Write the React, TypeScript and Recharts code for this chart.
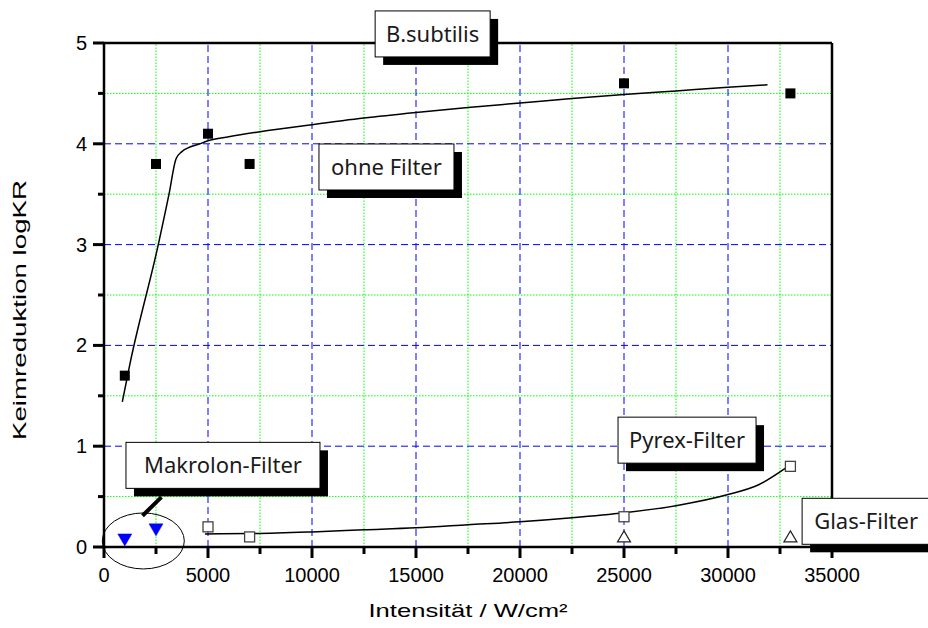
import React from 'react';
import { ComposedChart, XAxis, YAxis, Scatter, Line, ReferenceLine, ReferenceDot } from 'recharts';

// ---------- data ----------
const ohneX = [1000, 2500, 5000, 7000, 25000, 33000];
const ohneY = [1.7, 3.8, 4.1, 3.8, 4.6, 4.5];
const pyrexX = [5000, 7000, 25000, 33000];
const pyrexY = [0.2, 0.1, 0.3, 0.8];
const glasX = [25000, 33000];
const glasY = [0.1, 0.1];
const makrolonX = [1000, 2500];
const makrolonY = [0.07, 0.17];

const ohneFitX = [880, 1250, 2610, 3125, 3460, 3730, 4615, 5000, 6000, 7500, 10000, 12500, 15000, 17500, 20000, 22500, 25000, 27500, 30000, 31900];
const ohneFitY = [1.44, 1.82, 3.0, 3.5, 3.85, 3.92, 4.0, 4.03, 4.07, 4.12, 4.19, 4.255, 4.31, 4.36, 4.405, 4.45, 4.49, 4.525, 4.56, 4.585];
const pyrexFitX = [4850, 7000, 10000, 12500, 15000, 17500, 20000, 22500, 25000, 27500, 30000, 31500, 32750];
const pyrexFitY = [0.13, 0.133, 0.15, 0.17, 0.19, 0.22, 0.25, 0.29, 0.34, 0.41, 0.52, 0.62, 0.78];

const xTicks = [0, 2500, 5000, 7500, 10000, 12500, 15000, 17500, 20000, 22500, 25000, 27500, 30000, 32500, 35000];
const yTicks = [0, 0.5, 1, 1.5, 2, 2.5, 3, 3.5, 4, 4.5, 5];
const xGridMajor = [5000, 10000, 15000, 20000, 25000, 30000];
const xGridMinor = [2500, 7500, 12500, 17500, 22500, 27500, 32500];
const yGridMajor = [1, 2, 3, 4];
const yGridMinor = [0.5, 1.5, 2.5, 3.5, 4.5];

const noteText = ['B.subtilis', 'ohne Filter', 'Makrolon-Filter', 'Pyrex-Filter', 'Glas-Filter'];
const noteX = [15800, 13580, 5720, 28030, 36640];
const noteY = [5.09, 3.77, 0.81, 1.06, 0.255];
const ellipseCenter = { x: 1890, y: 0.06 };
const pointerSeg = [{ x: 1850, y: 0.31 }, { x: 2760, y: 0.495 }];

const xTitle = 'Intensität / W/cm²';
const yTitle = 'Keimreduktion logKR';

// ---------- styles ----------
const noteW = [115, 135, 194, 138, 128];
const NOTE_H = 46;
const AXIS_FONT = '"Liberation Sans", Arial, sans-serif';
const NOTE_FONT = '"Noto Sans", "Open Sans", sans-serif';
const TICK_W = 3;
const TICK_C = '#000';

const zip = (xs: number[], ys: number[]) => xs.map((x, i) => ({ x, y: ys[i] }));
const isMajor = (v: number, step: number) => Math.abs(v / step - Math.round(v / step)) < 1e-6;

const bottomTick = (p: any) => {
  const x = Number(p.x);
  const y = Number(p.y);
  const v = p.payload.value;
  const major = isMajor(v, 5000);
  return (
    <g>
      <line x1={x} x2={x} y1={y} y2={y + (major ? 11 : 7)} stroke={TICK_C} strokeWidth={TICK_W} />
      {major ? (
        <text x={x} y={y + 35} textAnchor="middle" fontFamily={AXIS_FONT} fontSize={20} fill="#000">
          {v}
        </text>
      ) : null}
    </g>
  );
};
const topTick = (p: any) => {
  const x = Number(p.x);
  const y = Number(p.y);
  const major = isMajor(p.payload.value, 5000);
  return (
    <g>
      <line x1={x} x2={x} y1={y} y2={y + (major ? 11 : 7)} stroke={TICK_C} strokeWidth={TICK_W} />
    </g>
  );
};
const leftTick = (p: any) => {
  const x = Number(p.x);
  const y = Number(p.y);
  const v = p.payload.value;
  const major = isMajor(v, 1);
  return (
    <g>
      <line x1={x - (major ? 11 : 6)} x2={x} y1={y} y2={y} stroke={TICK_C} strokeWidth={TICK_W} />
      {major ? (
        <text x={x - 17} y={y + 7} textAnchor="end" fontFamily={AXIS_FONT} fontSize={20} fill="#000">
          {v}
        </text>
      ) : null}
    </g>
  );
};
const rightTick = (p: any) => {
  const x = Number(p.x);
  const y = Number(p.y);
  const major = isMajor(p.payload.value, 1);
  return (
    <g>
      <line x1={x - (major ? 11 : 7)} x2={x} y1={y} y2={y} stroke={TICK_C} strokeWidth={TICK_W} />
    </g>
  );
};

const filledSquare = (p: any) => <rect x={p.cx - 5} y={p.cy - 5} width={10} height={10} fill="#000" />;
const openSquare = (p: any) => (
  <rect x={p.cx - 5} y={p.cy - 5} width={10} height={10} fill="#fff" stroke="#444" strokeWidth={1.3} />
);
const openTriangle = (p: any) => (
  <path d={`M${p.cx},${p.cy - 6} L${p.cx + 6.5},${p.cy + 5} L${p.cx - 6.5},${p.cy + 5} Z`} fill="#fff" stroke="#222" strokeWidth={1.2} />
);
const blueTriangle = (p: any) => (
  <path d={`M${p.cx - 7},${p.cy - 6} L${p.cx + 7},${p.cy - 6} L${p.cx},${p.cy + 6} Z`} fill="#0000ff" stroke="#0000ff" strokeWidth={0.5} />
);

const makeNote = (text: string, w: number) => (p: any) => {
  const { cx, cy } = p;
  const h = NOTE_H;
  return (
    <g>
      <rect x={cx - w / 2 + 8} y={cy - h / 2 + 8} width={w} height={h} fill="#000" />
      <rect x={cx - w / 2} y={cy - h / 2} width={w} height={h} fill="#fff" stroke="#000" strokeWidth={1} />
      <text x={cx} y={cy + 8} textAnchor="middle" fontFamily={NOTE_FONT} fontSize={22} fill="#1a1a1a">
        {text}
      </text>
    </g>
  );
};

const ellipseShape = (p: any) => <ellipse cx={p.cx} cy={p.cy} rx={41} ry={28} fill="none" stroke="#000" strokeWidth={1} />;

const XTitle = (p: any) => {
  const vb = p.viewBox;
  return (
    <text x={vb.x + vb.width / 2} y={vb.y + 70} textAnchor="middle" fontFamily={AXIS_FONT} fontSize={19} fill="#000" textLength={199} lengthAdjust="spacingAndGlyphs">
      {xTitle}
    </text>
  );
};
const YTitle = (p: any) => {
  const vb = p.viewBox;
  const cx = vb.x - 18;
  const cy = vb.y + vb.height / 2 + 15;
  return (
    <text transform={`translate(${cx},${cy}) rotate(-90)`} x={0} y={0} textAnchor="middle" fontFamily={AXIS_FONT} fontSize={19} fill="#000" textLength={260} lengthAdjust="spacingAndGlyphs">
      {yTitle}
    </text>
  );
};

export default function App() {
  const axisLine = { stroke: '#000', strokeWidth: 2.5 };
  return (
    <div style={{ position: 'absolute', left: 0, top: 0, width: 928, height: 628, background: '#fff' }}>
      <ComposedChart width={928} height={628} margin={{ top: 33, right: 76, bottom: 41, left: 44 }}>
        <XAxis
          type="number"
          dataKey="x"
          domain={[0, 35000]}
          ticks={xTicks}
          interval={0}
          height={40}
          axisLine={axisLine}
          tickLine={false}
          tickSize={0}
          tickMargin={0}
          tick={bottomTick}
          label={<XTitle />}
        />
        <XAxis
          xAxisId="top"
          orientation="top"
          type="number"
          dataKey="x"
          domain={[0, 35000]}
          ticks={xTicks}
          interval={0}
          height={10}
          axisLine={axisLine}
          tickLine={false}
          tickSize={0}
          tickMargin={0}
          tick={topTick}
        />
        <YAxis
          type="number"
          dataKey="y"
          domain={[0, 5]}
          ticks={yTicks}
          interval={0}
          width={60}
          axisLine={axisLine}
          tickLine={false}
          tickSize={0}
          tickMargin={0}
          tick={leftTick}
          label={<YTitle />}
        />
        <YAxis
          yAxisId="right"
          orientation="right"
          type="number"
          dataKey="y"
          domain={[0, 5]}
          ticks={yTicks}
          interval={0}
          width={20}
          axisLine={axisLine}
          tickLine={false}
          tickSize={0}
          tickMargin={0}
          tick={rightTick}
        />

        {xGridMinor.map((v) => (
          <ReferenceLine key={`gx${v}`} x={v} stroke="#00ff00" strokeWidth={1} strokeDasharray="1.5 1.5" />
        ))}
        {yGridMinor.map((v) => (
          <ReferenceLine key={`gy${v}`} y={v} stroke="#00ff00" strokeWidth={1} strokeDasharray="1.5 1.5" />
        ))}
        {xGridMajor.map((v) => (
          <ReferenceLine key={`bx${v}`} x={v} stroke="#0000ff" strokeWidth={1} strokeDasharray="7 4" />
        ))}
        {yGridMajor.map((v) => (
          <ReferenceLine key={`by${v}`} y={v} stroke="#0000ff" strokeWidth={1} strokeDasharray="7 4" />
        ))}

        <Line data={zip(ohneFitX, ohneFitY)} dataKey="y" type="monotone" stroke="#000" strokeWidth={1.5} dot={false} activeDot={false} isAnimationActive={false} />
        <Line data={zip(pyrexFitX, pyrexFitY)} dataKey="y" type="monotone" stroke="#000" strokeWidth={1.5} dot={false} activeDot={false} isAnimationActive={false} />

        <Scatter data={zip(ohneX, ohneY)} shape={filledSquare} isAnimationActive={false} />
        <Scatter data={zip(pyrexX, pyrexY)} shape={openSquare} isAnimationActive={false} />
        <Scatter data={zip(glasX, glasY)} shape={openTriangle} isAnimationActive={false} />
        <Scatter data={zip(makrolonX, makrolonY)} shape={blueTriangle} isAnimationActive={false} />

        <ReferenceDot x={ellipseCenter.x} y={ellipseCenter.y} ifOverflow="visible" shape={ellipseShape} />
        <ReferenceLine segment={pointerSeg} stroke="#000" strokeWidth={4} />

        {noteText.map((t, i) => (
          <ReferenceDot key={t} x={noteX[i]} y={noteY[i]} ifOverflow="visible" shape={makeNote(t, noteW[i])} />
        ))}
      </ComposedChart>
    </div>
  );
}
